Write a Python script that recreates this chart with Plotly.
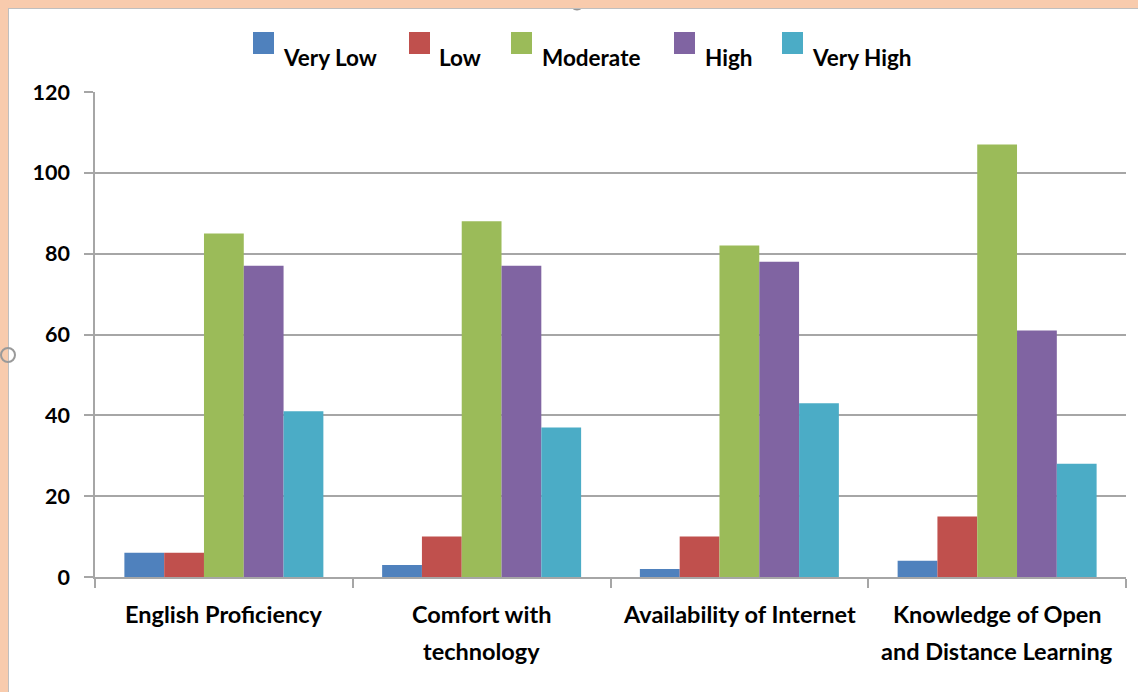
import plotly.graph_objects as go

categories = ["English Proficiency", "Comfort with<br>technology", "Availability of Internet",
              "Knowledge of Open<br>and Distance Learning"]
series_names = ["Very Low", "Low", "Moderate", "High", "Very High"]
very_low = [6, 3, 2, 4]
low = [6, 10, 10, 15]
moderate = [85, 88, 82, 107]
high = [77, 77, 78, 61]
very_high = [41, 37, 43, 28]
y_ticks = [0, 20, 40, 60, 80, 100, 120]

colors = ["#4F81BD", "#C0504D", "#9BBB59", "#8064A2", "#4BACC6"]
series_values = [very_low, low, moderate, high, very_high]

W, H = 1138, 692
ML, MR, MT, MB = 95, 12, 92, 115
PW, PH = W - ML - MR, H - MT - MB

def px_x(p):
    return (p - ML) / PW

def px_y(p):
    return (H - p - MB) / PH

font_family = "Lato, 'Open Sans', sans-serif"
PEACH = "#F8CBAD"

fig = go.Figure()
for name, vals, c in zip(series_names, series_values, colors):
    fig.add_trace(go.Bar(x=categories, y=vals, name=name, showlegend=False,
                         marker=dict(color=c, line=dict(width=0))))

# legend drawn manually (larger square swatches, as in the reference)
legend_sq_left = [253, 409, 511, 674, 782]
legend_text_left = [283, 439, 542, 705, 812]
shapes = [
    dict(type="circle", xref="paper", yref="paper", x0=px_x(570), x1=px_x(584), y0=px_y(-4), y1=px_y(10),
         fillcolor="#9A9A9A", line=dict(color="#8C8C8C", width=1), layer="below"),
    dict(type="rect", xref="paper", yref="paper", x0=px_x(0), x1=px_x(W), y0=px_y(0), y1=px_y(8),
         fillcolor=PEACH, line=dict(width=0), layer="below"),
    dict(type="rect", xref="paper", yref="paper", x0=px_x(0), x1=px_x(8), y0=px_y(0), y1=px_y(H),
         fillcolor=PEACH, line=dict(width=0), layer="below"),
    dict(type="line", xref="paper", yref="paper", x0=px_x(8.5), x1=px_x(8.5), y0=px_y(8), y1=px_y(H),
         line=dict(color="#BFBFBF", width=1)),
    dict(type="line", xref="paper", yref="paper", x0=px_x(8), x1=px_x(W), y0=px_y(8.5), y1=px_y(8.5),
         line=dict(color="#BFBFBF", width=1)),
    dict(type="circle", xref="paper", yref="paper", x0=px_x(1), x1=px_x(15), y0=px_y(348), y1=px_y(362),
         fillcolor="rgba(0,0,0,0)", line=dict(color="#9A9A9A", width=2)),
]
annotations = []
for name, c, sx, tx in zip(series_names, colors, legend_sq_left, legend_text_left):
    shapes.append(dict(type="rect", xref="paper", yref="paper", x0=px_x(sx), x1=px_x(sx + 21),
                       y0=px_y(54), y1=px_y(32), fillcolor=c, line=dict(width=0)))
    annotations.append(dict(text=name, xref="paper", yref="paper", x=px_x(tx - 2), y=px_y(57),
                            xanchor="left", yanchor="middle", showarrow=False,
                            font=dict(family=font_family, size=22.5, color="black", weight="bold")))

# category labels as annotations, one per line (reference uses taller line spacing)
line_centers = [614, 651]
for cat in categories:
    for i, line in enumerate(cat.split("<br>")):
        annotations.append(dict(text=line, xref="x", yref="paper", x=cat, y=px_y(line_centers[i]),
                                xanchor="center", yanchor="middle", showarrow=False,
                                font=dict(family=font_family, size=23.5, color="black", weight="bold")))

fig.update_layout(
    width=W, height=H,
    margin=dict(l=ML, r=MR, t=MT, b=MB),
    paper_bgcolor="white", plot_bgcolor="white",
    barmode="group", bargap=0.228, bargroupgap=0,
    font=dict(family=font_family, size=20, color="black"),
    showlegend=False,
    xaxis=dict(showline=True, linecolor="#A6A6A6", linewidth=1.5, ticks="outside",
               tickson="boundaries", ticklen=9, tickcolor="#A6A6A6", tickwidth=1.5,
               showticklabels=False, showgrid=False, fixedrange=True),
    yaxis=dict(range=[0, 120], tickvals=y_ticks, showline=True, linecolor="#A6A6A6", linewidth=1.5,
               ticks="outside", ticklen=9, tickcolor="#A6A6A6", tickwidth=1.5,
               showgrid=True, gridcolor="#A6A6A6", gridwidth=1.5, zeroline=False,
               tickfont=dict(family=font_family, size=21.5, color="black", weight="bold"),
               ticklabelstandoff=10, fixedrange=True),
    shapes=shapes,
    annotations=annotations,
)

fig.write_html("out.html", config={"displayModeBar": False},
               post_script="document.body.style.margin='0';document.body.style.overflow='hidden';")
